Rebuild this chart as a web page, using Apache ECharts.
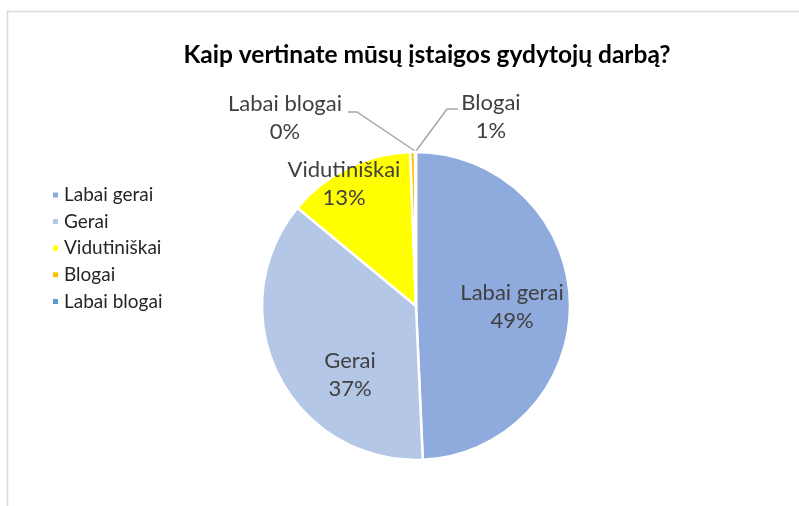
<!DOCTYPE html>
<html>
<head>
<meta charset="utf-8">
<script src="https://cdn.jsdelivr.net/npm/echarts@6/dist/echarts.min.js"></script>
<style>
  html, body { margin: 0; padding: 0; background: #fff; }
  #chart { width: 799px; height: 506px; }
</style>
</head>
<body>
<div id="chart"></div>
<script>
// kategorijos ir reikšmės (procentais)
const categories = ['Labai gerai', 'Gerai', 'Vidutiniškai', 'Blogai', 'Labai blogai'];
const values = [49.3, 36.7, 13.4, 0.5, 0.1];
const colors = ['#8faadc', '#b4c7e7', '#ffff00', '#ffc000', '#5b9bd5'];

// etikečių vietos (kaip originale)
const labelPos = [[512, 307], [350, 375], [344, 184], [491, 117], [285, 118]];
const linePts = {
  3: [[416, 151], [447, 109], [458, 109]],
  4: [[415, 151], [357, 112], [348, 112]]
};

const chart = echarts.init(document.getElementById('chart'));

const option = {
  animation: false,
  title: {
    text: 'Kaip vertinate mūsų įstaigos gydytojų darbą?',
    left: 422,
    textAlign: 'center',
    top: 38,
    textStyle: { fontFamily: 'Lato', fontSize: 24.5, fontWeight: 'bold', color: '#000' }
  },
  legend: {
    orient: 'vertical',
    left: 46,
    top: 180,
    icon: 'rect',
    itemWidth: 7,
    itemHeight: 7,
    itemGap: 6.6,
    data: categories,
    textStyle: { fontFamily: 'Lato', fontSize: 19, color: '#262626', lineHeight: 20 }
  },
  graphic: [{
    type: 'rect',
    shape: { x: 7.5, y: 11.5, width: 820, height: 600 },
    style: { fill: 'none', stroke: '#d9d9d9', lineWidth: 1.5 }
  }],
  series: [{
    type: 'pie',
    center: [416, 306],
    radius: 154,
    startAngle: 90,
    clockwise: true,
    avoidLabelOverlap: false,
    itemStyle: { borderColor: '#fff', borderWidth: 2.5 },
    label: {
      show: true,
      position: 'inside',
      formatter: p => p.name + '\n' + Math.round(p.value) + '%',
      fontFamily: 'Lato',
      fontSize: 22,
      lineHeight: 28,
      color: '#404040'
    },
    labelLine: { show: true, lineStyle: { color: '#a6a6a6', width: 1.5 } },
    labelLayout: function (p) {
      const pos = labelPos[p.dataIndex];
      const res = { x: pos[0], y: pos[1], align: 'center', verticalAlign: 'middle' };
      if (linePts[p.dataIndex]) res.labelLinePoints = linePts[p.dataIndex];
      return res;
    },
    data: categories.map((c, i) => ({
      name: c,
      value: values[i],
      itemStyle: { color: colors[i] },
      label: i >= 3 ? { position: 'outside' } : {},
      labelLine: { show: i >= 3 }
    }))
  }]
};

chart.setOption(option);
</script>
</body>
</html>
